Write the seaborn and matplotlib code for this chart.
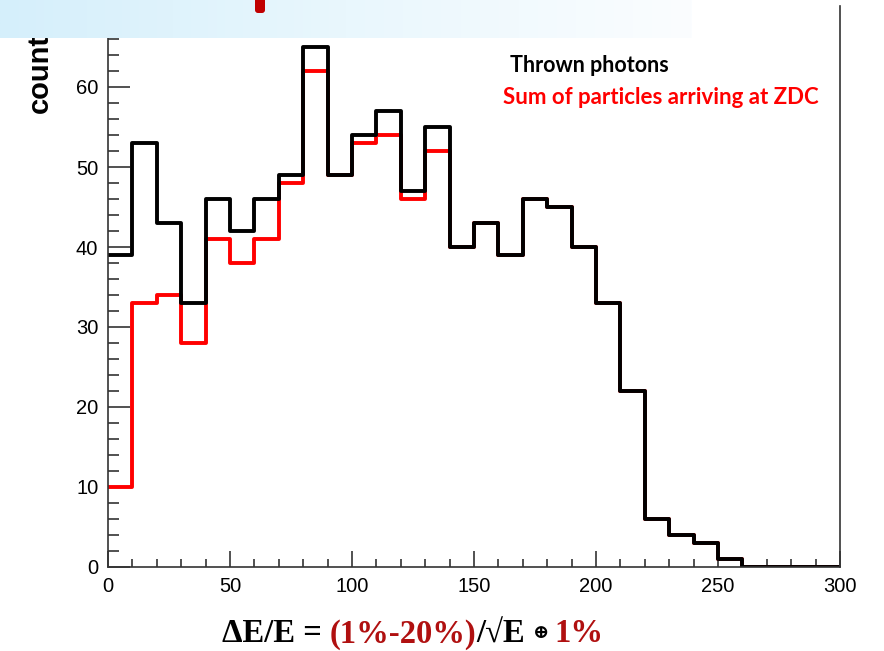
import numpy as np
import pandas as pd
import matplotlib
matplotlib.use("Agg")
import matplotlib.pyplot as plt
from matplotlib.patches import FancyBboxPatch
from matplotlib.ticker import MultipleLocator
from matplotlib.colors import LinearSegmentedColormap
import seaborn as sns

# ---------------- data ----------------
bin_edges = list(range(0, 310, 10))
thrown_photons = [39, 53, 43, 33, 46, 42, 46, 49, 65, 49,
                  54, 57, 47, 55, 40, 43, 39, 46, 45, 40,
                  33, 22, 6, 4, 3, 1, 0, 0, 0, 0]
sum_particles = [10, 33, 34, 28, 41, 38, 41, 48, 62, 49,
                 53, 54, 46, 52, 40, 43, 39, 46, 45, 40,
                 33, 22, 6, 4, 3, 1, 0, 0, 0, 0]
x_ticks = [0, 50, 100, 150, 200, 250, 300]
y_ticks = [0, 10, 20, 30, 40, 50, 60]
legend_labels = ["Thrown photons", "Sum of particles arriving at ZDC"]

centers = [(a + b) / 2 for a, b in zip(bin_edges[:-1], bin_edges[1:])]
df = pd.DataFrame({"x": centers + centers,
                   "w": sum_particles + thrown_photons,
                   "series": ["sum"] * len(centers) + ["thrown"] * len(centers)})

sns.set_theme(style="white")
plt.rcParams["font.family"] = ["Liberation Sans", "DejaVu Sans"]

W, H = 884, 651
fig = plt.figure(figsize=(W / 100, H / 100), dpi=100)
ax = fig.add_axes([108 / W, 1 - 567 / H, (840 - 108) / W, (567 - 6) / H])

sns.histplot(data=df[df.series == "sum"], x="x", weights="w", bins=bin_edges,
             element="step", fill=False, color="#ff0000", linewidth=2.8, ax=ax)
sns.histplot(data=df[df.series == "thrown"], x="x", weights="w", bins=bin_edges,
             element="step", fill=False, color="#000000", linewidth=2.8, ax=ax)

ax.set_xlim(0, 300)
ax.set_ylim(0, (567 - 6) / 8.0)
ax.set_xlabel("")
ax.set_ylabel("")
ax.set_xticks(x_ticks)
ax.set_yticks(y_ticks)
ax.xaxis.set_minor_locator(MultipleLocator(10))
ax.yaxis.set_minor_locator(MultipleLocator(2))
ax.tick_params(axis="y", which="major", direction="in", length=15.5, width=1.1,
               color="#222222", labelsize=14.5, pad=7, left=True)
ax.tick_params(axis="y", which="minor", direction="in", length=7.8, width=1.1,
               color="#222222", left=True)
ax.tick_params(axis="x", which="major", direction="in", length=11.5, width=1.1,
               color="#222222", labelsize=14.5, pad=7, bottom=True)
ax.tick_params(axis="x", which="minor", direction="in", length=5.8, width=1.1,
               color="#222222", bottom=True)
for lab in ax.get_xticklabels() + ax.get_yticklabels():
    lab.set_color("black")
ax.spines["top"].set_visible(False)
for s in ["left", "bottom", "right"]:
    ax.spines[s].set_color("#333333")
    ax.spines[s].set_linewidth(1.2)
ax.grid(False)

# legend-like texts
ax.text(510 / W, 1 - 65 / H, legend_labels[0], transform=fig.transFigure,
        fontsize=15.5, fontweight="bold", color="black", family=["Lato", "DejaVu Sans"],
        ha="left", va="center")
ax.text(503 / W, 1 - 98 / H, legend_labels[1], transform=fig.transFigure,
        fontsize=16, fontweight="bold", color="#ff0000", family=["Lato", "DejaVu Sans"],
        ha="left", va="center")

# y label (partly hidden by banner)
fig.text(40 / W, 1 - 113 / H, "counts", rotation=90, fontsize=21, fontweight="bold",
         ha="center", va="bottom", color="black", family=["Liberation Sans", "DejaVu Sans"])

# top banner overlay
bax = fig.add_axes([0, 1 - 38 / H, 692 / W, 38 / H], zorder=10)
grad = np.linspace(0, 1, 256).reshape(1, -1)
cmap = LinearSegmentedColormap.from_list("bn", ["#d5effb", "#e9f7fd", "#fbfdff"])
bax.imshow(grad, aspect="auto", cmap=cmap, extent=[0, 692, 38, 0])
bax.add_patch(FancyBboxPatch((255, -5), 10, 18, boxstyle="round,pad=0,rounding_size=3",
                             facecolor="#c00000", edgecolor="none"))
bax.set_xlim(0, 692)
bax.set_ylim(38, 0)
bax.axis("off")

# bottom formula with coloured parts
parts = [("ΔE/E = ", "black"), ("(1%-20%)", "#b01010"), ("/√E ", "black"),
         ("⊕ ", "black"), ("1%", "#b01010")]
fig.canvas.draw()
renderer = fig.canvas.get_renderer()
x0 = 222
y0 = 1 - 634 / H
for txt, col in parts:
    size = 23.5 if txt != "⊕ " else 14
    t = fig.text(x0 / W, y0, txt, fontsize=size, fontweight="bold", color=col,
                 family=["Liberation Serif", "DejaVu Serif"], ha="left", va="center")
    bb = t.get_window_extent(renderer=renderer)
    x0 += bb.width

fig.savefig("out.png", dpi=100)
